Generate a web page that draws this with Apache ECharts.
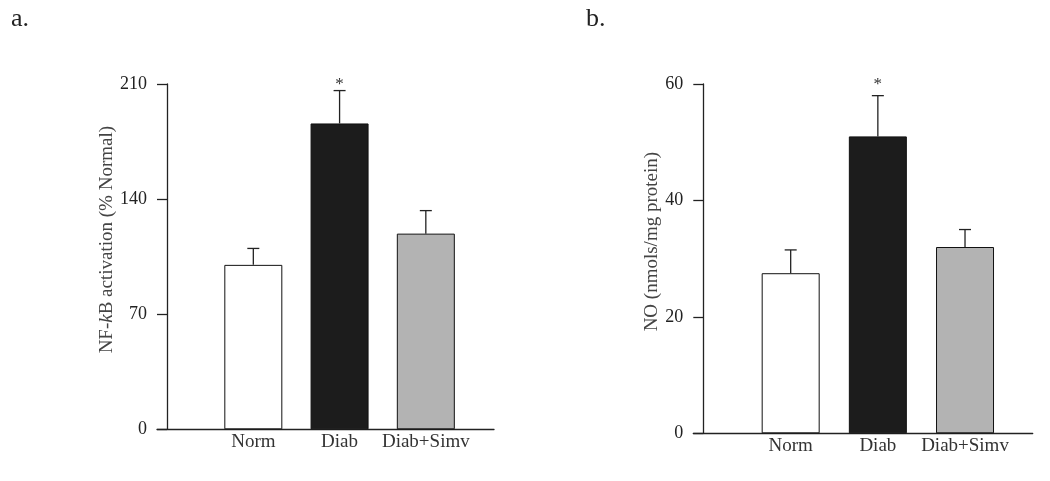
<!DOCTYPE html>
<html>
<head>
<meta charset="utf-8">
<script src="https://cdn.jsdelivr.net/npm/echarts@6/dist/echarts.min.js"></script>
<style>
html,body{margin:0;padding:0;background:#fff;}
#chart{width:1050px;height:481px;}
</style>
</head>
<body>
<div id="chart"></div>
<script>
// ---- data ----
const categories = ['Norm', 'Diab', 'Diab+Simv'];
const nfkbMeans = [100, 186, 119];
const nfkbErrors = [10, 20, 14];
const noMeans = [27.5, 51, 32];
const noErrors = [4, 7, 3];
const significance = ['', '*', ''];
const nfkbTicks = [0, 70, 140, 210];
const noTicks = [0, 20, 40, 60];
const barColors = ['#ffffff', '#1c1c1c', '#b3b3b3'];
const panelLabels = ['a.', 'b.'];
const yTitles = ['NF-{i|k}B activation (% Normal)', 'NO (nmols/mg protein)'];

const FONT = 'Liberation Serif';
const INK = '#222';

const chart = echarts.init(document.getElementById('chart'), null, {renderer: 'canvas'});

function errorSeries(means, errs, xIdx, yIdx, yMax) {
  return {
    type: 'custom',
    xAxisIndex: xIdx,
    yAxisIndex: yIdx,
    z: 5,
    data: means.map((m, i) => [i, m, errs[i], significance[i]]),
    renderItem: function (params, api) {
      const i = api.value(0);
      const top = api.coord([i, api.value(1)]);
      const hi = api.coord([i, api.value(1) + api.value(2)]);
      const cap = 6;
      const children = [
        {type: 'line', shape: {x1: top[0], y1: top[1], x2: hi[0], y2: hi[1]},
         style: {stroke: INK, lineWidth: 1.3}},
        {type: 'line', shape: {x1: hi[0] - cap, y1: hi[1], x2: hi[0] + cap, y2: hi[1]},
         style: {stroke: INK, lineWidth: 1.3}}
      ];
      const sig = significance[i];
      if (sig) {
        const star = api.coord([i, yMax]);
        children.push({type: 'text', x: star[0], y: star[1] + 1,
          style: {text: sig, fontFamily: FONT, fontSize: 17, fill: '#333',
                  align: 'center', verticalAlign: 'middle'}});
      }
      return {type: 'group', children: children};
    }
  };
}

function barSeries(means, xIdx, yIdx) {
  return {
    type: 'bar',
    xAxisIndex: xIdx,
    yAxisIndex: yIdx,
    barWidth: 58,
    data: means.map((m, i) => ({value: m, itemStyle: {color: barColors[i], borderColor: '#111', borderWidth: 1}})),
    z: 3
  };
}

function displayYAxis(gridIndex, ticks, title, nameGap) {
  return {
    type: 'value', gridIndex: gridIndex,
    min: ticks[0], max: ticks[ticks.length - 1], interval: ticks[1] - ticks[0],
    offset: -10,
    axisLine: {show: true, onZero: false, lineStyle: {color: INK, width: 1.3}},
    axisTick: {show: true, inside: false, length: 10, lineStyle: {color: INK, width: 1.3}},
    axisLabel: {show: true, margin: 20, color: INK, fontFamily: FONT, fontSize: 18},
    splitLine: {show: false},
    name: title, nameLocation: 'middle', nameGap: nameGap,
    nameTextStyle: {color: '#444', fontFamily: FONT, fontSize: 19, padding: [0, 0, 0, 34],
      rich: {i: {fontStyle: 'italic', color: '#444', fontFamily: FONT, fontSize: 19}}}
  };
}

function hiddenYAxis(gridIndex, ticks) {
  return {type: 'value', gridIndex: gridIndex, show: false,
    min: ticks[0], max: ticks[ticks.length - 1], splitLine: {show: false}};
}

function displayXAxis(gridIndex) {
  return {type: 'value', gridIndex: gridIndex, min: 0, max: 1,
    axisLine: {show: true, onZero: false, lineStyle: {color: INK, width: 1.3}},
    axisTick: {show: false}, axisLabel: {show: false}, splitLine: {show: false}};
}

function catXAxis(gridIndex) {
  return {type: 'category', gridIndex: gridIndex, data: categories,
    axisLine: {show: false}, axisTick: {show: false},
    axisLabel: {show: true, margin: 3, color: '#333', fontFamily: FONT, fontSize: 19, interval: 0},
    splitLine: {show: false}};
}

const option = {
  animation: false,
  backgroundColor: '#fff',
  title: [
    {text: panelLabels[0], left: 6, top: 1, textStyle: {fontFamily: FONT, fontSize: 26, fontWeight: 'normal', color: INK}},
    {text: panelLabels[1], left: 581, top: 1, textStyle: {fontFamily: FONT, fontSize: 26, fontWeight: 'normal', color: INK}}
  ],
  grid: [
    {left: 157, top: 84, width: 337, height: 345.3},
    {left: 210.2, top: 84, width: 258.75, height: 345.3},
    {left: 693.3, top: 84, width: 339.4, height: 349.3},
    {left: 747.1, top: 84, width: 261.5, height: 349.3}
  ],
  xAxis: [displayXAxis(0), catXAxis(1), displayXAxis(2), catXAxis(3)],
  yAxis: [
    displayYAxis(0, nfkbTicks, yTitles[0], 49),
    hiddenYAxis(1, nfkbTicks),
    displayYAxis(2, noTicks, yTitles[1], 40),
    hiddenYAxis(3, noTicks)
  ],
  series: [
    barSeries(nfkbMeans, 1, 1),
    errorSeries(nfkbMeans, nfkbErrors, 1, 1, nfkbTicks[nfkbTicks.length - 1]),
    barSeries(noMeans, 3, 3),
    errorSeries(noMeans, noErrors, 3, 3, noTicks[noTicks.length - 1])
  ]
};
chart.setOption(option);
</script>
</body>
</html>
